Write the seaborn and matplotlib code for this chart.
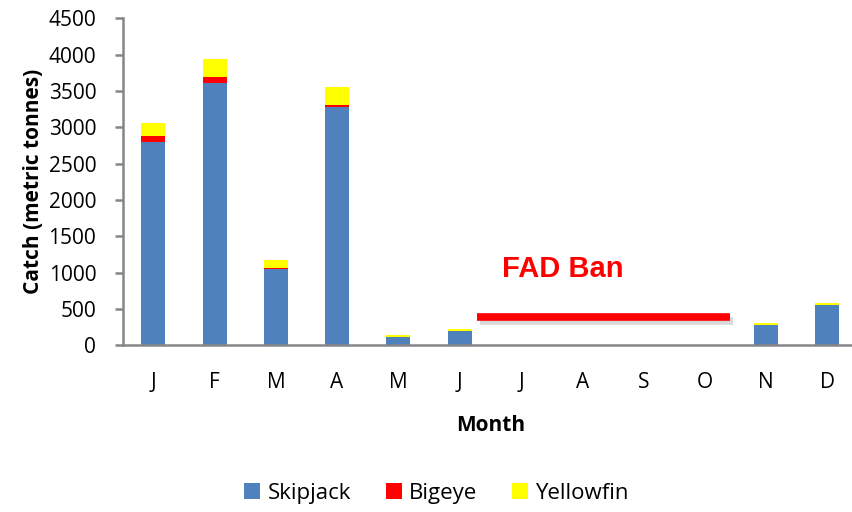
import numpy as np
import pandas as pd
import matplotlib
matplotlib.use("Agg")
import matplotlib.pyplot as plt
import matplotlib.patheffects as pe
from matplotlib.lines import Line2D
import seaborn as sns

# monthly catch by species (metric tonnes)
months = ["Jan", "Feb", "Mar", "Apr", "May", "Jun", "Jul", "Aug", "Sep", "Oct", "Nov", "Dec"]
month_labels = ["J", "F", "M", "A", "M", "J", "J", "A", "S", "O", "N", "D"]
skipjack = [2795, 3615, 1045, 3285, 113, 195, 0, 0, 0, 0, 277, 550]
bigeye = [80, 80, 25, 28, 3, 2, 0, 0, 0, 0, 2, 2]
yellowfin = [190, 245, 110, 245, 24, 25, 0, 0, 0, 0, 25, 25]

# FAD ban annotation (category units / tonnes)
ban_start, ban_end, ban_level = 5.29, 9.42, 383
ban_text_x, ban_text_y = 6.69, 1054

colors = {"Skipjack": "#4F81BD", "Bigeye": "#FF0000", "Yellowfin": "#FFFF00"}
axis_grey = "#868686"

df = pd.DataFrame({"month": months, "Skipjack": skipjack,
                   "Bigeye": bigeye, "Yellowfin": yellowfin})
df["c_skip"] = df["Skipjack"]
df["c_big"] = df["c_skip"] + df["Bigeye"]
df["c_yel"] = df["c_big"] + df["Yellowfin"]

sns.set_style("white")
plt.rcParams["font.family"] = ["Open Sans", "DejaVu Sans"]
plt.rcParams["text.color"] = "black"
plt.rcParams["axes.labelcolor"] = "black"

fig = plt.figure(figsize=(8.53, 5.12), dpi=100)
ax = fig.add_axes([0.1438, 0.3256, 0.862, 0.6385])

# stacked bars: draw cumulative totals back to front
for col, name in [("c_yel", "Yellowfin"), ("c_big", "Bigeye"), ("c_skip", "Skipjack")]:
    sns.barplot(data=df, x="month", y=col, order=months, color=colors[name],
                width=0.39, saturation=1, linewidth=0, ax=ax)

ax.set_xlim(-0.5, 11.5)
ax.set_ylim(0, 4500)
ax.set_yticks(range(0, 4501, 500))
ax.set_xticks(range(12))
ax.set_xticklabels(month_labels)
ax.set_xticks(np.arange(-0.5, 12, 1), minor=True)

for s in ["top", "right"]:
    ax.spines[s].set_visible(False)
for s in ["left", "bottom"]:
    ax.spines[s].set_color(axis_grey)
    ax.spines[s].set_linewidth(1.8)

ax.tick_params(axis="x", which="major", length=0, pad=19, labelsize=15, labelcolor="black")
ax.tick_params(axis="x", which="minor", length=5, width=1.8, color=axis_grey, direction="out")
ax.tick_params(axis="y", length=6, width=1.8, color=axis_grey, direction="out",
               pad=13, labelsize=15, labelcolor="black", left=True)

ax.set_xlabel("Month", fontsize=15, fontweight="bold", labelpad=16)
ax.set_ylabel("Catch (metric tonnes)", fontsize=15, fontweight="bold", labelpad=3)

# FAD ban marker
ax.plot([ban_start, ban_end], [ban_level, ban_level], color="#FF0000", lw=5.5,
        solid_capstyle="butt",
        path_effects=[pe.SimpleLineShadow(offset=(1.5, -2.5), alpha=0.3, shadow_color="grey"),
                      pe.Normal()])
ax.text(ban_text_x, ban_text_y, "FAD Ban", color="#FF0000", fontsize=21,
        fontweight="bold", family=["Liberation Sans", "DejaVu Sans"],
        ha="center", va="center")

handles = [Line2D([], [], marker="s", linestyle="none", markersize=11,
                  markerfacecolor=colors[n], markeredgewidth=0, label=n)
           for n in ["Skipjack", "Bigeye", "Yellowfin"]]
fig.legend(handles=handles, loc="center", bbox_to_anchor=(0.51, 0.037), ncol=3,
           frameon=False, fontsize=16, handletextpad=0.2, columnspacing=1.4,
           handlelength=1.0)

fig.savefig("out.png", dpi=100)
